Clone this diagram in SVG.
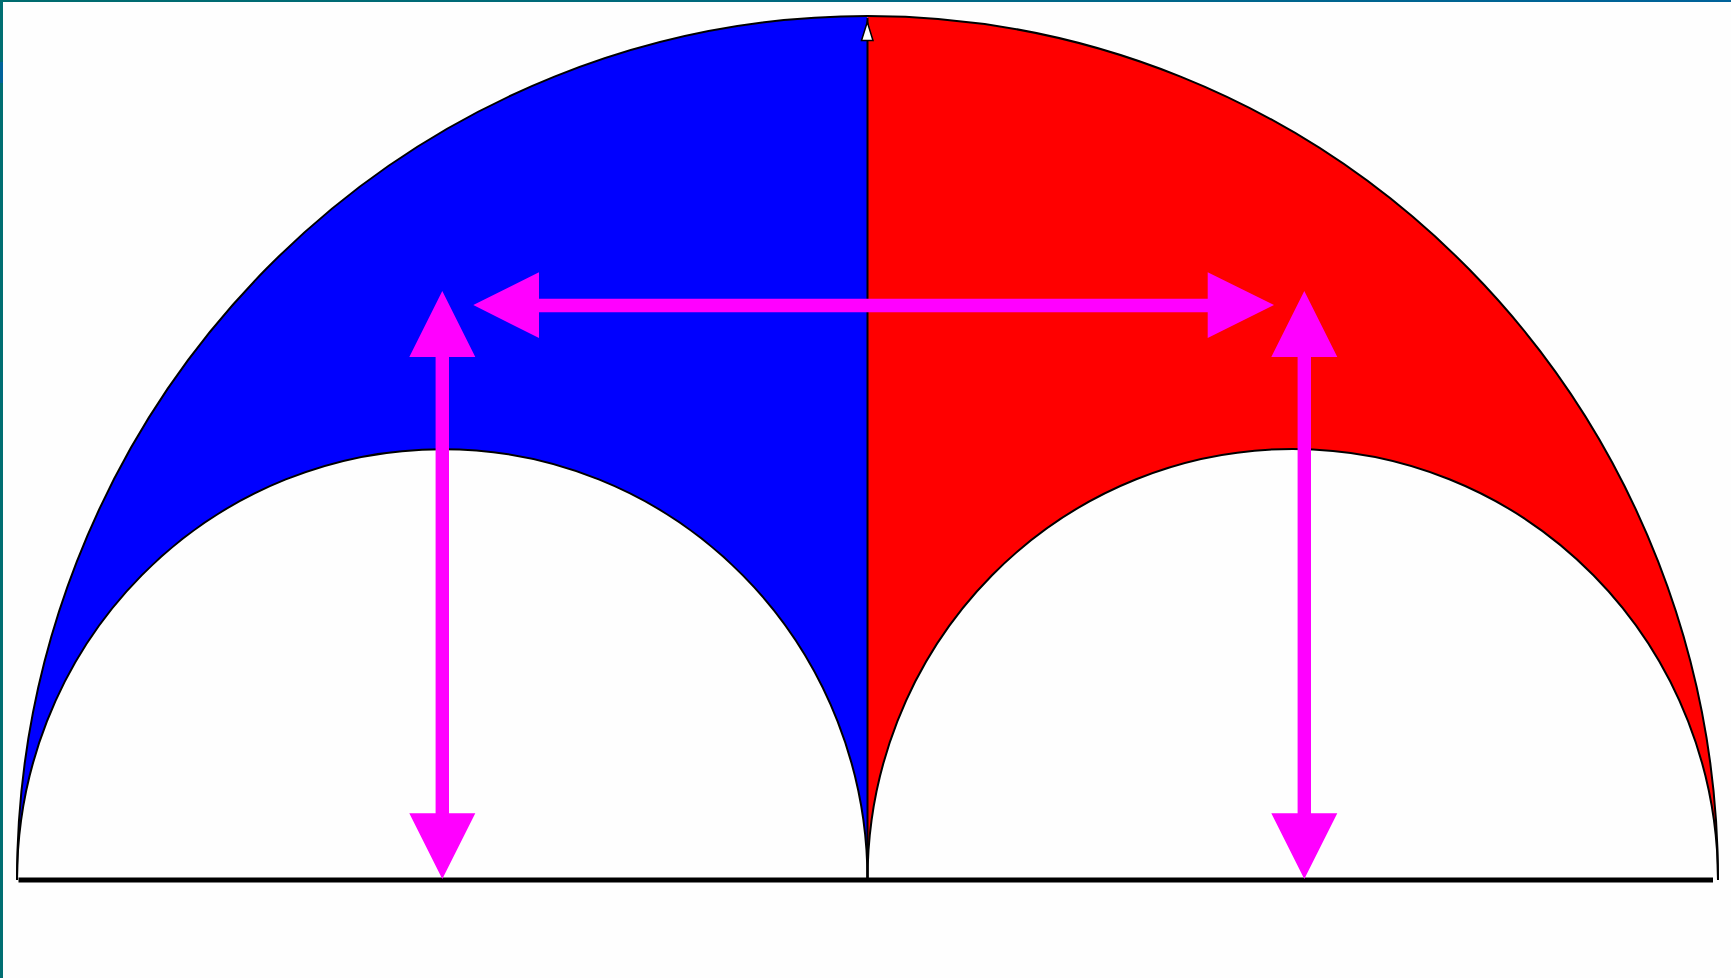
<svg xmlns="http://www.w3.org/2000/svg" width="1731" height="978" viewBox="0 0 1731 978">
  <style>
    .outline { fill: none; stroke: #000; stroke-width: 2; }
    .arrow { fill: #ff00ff; stroke: none; }
  </style>
  <defs>
    <linearGradient id="topbar" x1="0" y1="0" x2="1" y2="0">
      <stop offset="0" stop-color="#006b6e"/>
      <stop offset="0.3" stop-color="#006a78"/>
      <stop offset="1" stop-color="#00629a"/>
    </linearGradient>
  </defs>
  <rect width="1731" height="978" fill="#fefefe"/>
  <rect x="0" y="0" width="1731" height="2" fill="url(#topbar)"/>
  <rect x="0" y="0" width="3" height="978" fill="#006e72"/>
  <rect x="0" y="62" width="3" height="21" fill="#00629a"/>

  <g id="blue-region">
    <path d="M 17 880 A 850.5 864 0 0 1 867.5 16 L 867.5 880 A 425.25 431 0 0 0 17 880 Z" fill="#0000ff"/>
  </g>
  <g id="red-region">
    <path d="M 867.5 16 A 850.5 864 0 0 1 1718 880 A 425.25 431 0 0 0 867.5 880 Z" fill="#ff0000"/>
  </g>
  <g id="outlines">
    <path class="outline" d="M 17 880 A 850.5 864 0 0 1 1718 880"/>
    <path class="outline" d="M 17 880 A 425.25 431 0 0 1 867.5 880"/>
    <path class="outline" d="M 867.5 880 A 425.25 431 0 0 1 1718 880"/>
    <line x1="867.5" y1="18" x2="867.5" y2="880" stroke="#000" stroke-width="2"/>
    <polygon points="867.3,22 861.5,40.5 873,40.5" fill="#fff" stroke="#000" stroke-width="1.5"/>
  </g>
  <g id="baseline">
    <line x1="18.5" y1="880" x2="1713" y2="880" stroke="#000" stroke-width="5"/>
  </g>
  <g id="connectors">
    <path class="arrow" d="M 442.3 291 L 475.3 357 L 449 357 L 449 813.3 L 475.3 813.3 L 442.3 879 L 409.3 813.3 L 435.6 813.3 L 435.6 357 L 409.3 357 Z"/>
    <path class="arrow" d="M 1304.3 291 L 1337.3 357 L 1311 357 L 1311 813.3 L 1337.3 813.3 L 1304.3 879 L 1271.3 813.3 L 1297.6 813.3 L 1297.6 357 L 1271.3 357 Z"/>
    <path class="arrow" d="M 473.3 305 L 539 272.3 L 539 298.8 L 1207.7 298.8 L 1207.7 272.3 L 1274 305 L 1207.7 338 L 1207.7 312.2 L 539 312.2 L 539 338 Z"/>
  </g>
</svg>
